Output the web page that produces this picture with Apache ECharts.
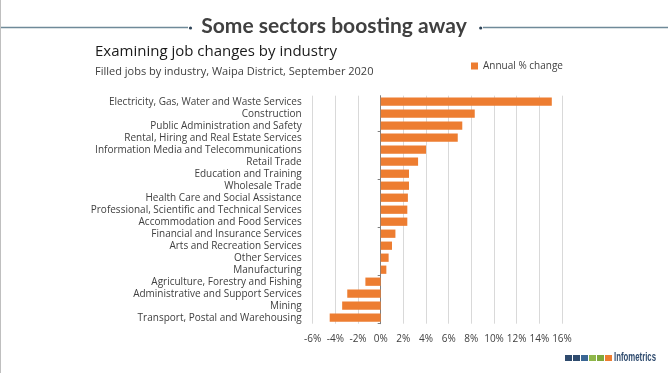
<!DOCTYPE html>
<html>
<head>
<meta charset="utf-8">
<script src="https://cdn.jsdelivr.net/npm/echarts@6/dist/echarts.min.js"></script>
<style>
html,body{margin:0;padding:0;background:#fff;}
#c{width:668px;height:373px;}
</style>
</head>
<body>
<div id="c"></div>
<script>
const categories = [
  "Electricity, Gas, Water and Waste Services",
  "Construction",
  "Public Administration and Safety",
  "Rental, Hiring and Real Estate Services",
  "Information Media and Telecommunications",
  "Retail Trade",
  "Education and Training",
  "Wholesale Trade",
  "Health Care and Social Assistance",
  "Professional, Scientific and Technical Services",
  "Accommodation and Food Services",
  "Financial and Insurance Services",
  "Arts and Recreation Services",
  "Other Services",
  "Manufacturing",
  "Agriculture, Forestry and Fishing",
  "Administrative and Support Services",
  "Mining",
  "Transport, Postal and Warehousing"
];
const annualChange = [15.1, 8.3, 7.2, 6.8, 4.0, 3.3, 2.5, 2.5, 2.4, 2.35, 2.35, 1.3, 1.0, 0.7, 0.5, -1.35, -2.95, -3.4, -4.5];
const xMin = -6, xMax = 16, xStep = 2;
const seriesName = "Annual % change";
const chartTitle = "Some sectors boosting away";
const subTitle = "Examining job changes by industry";
const subText = "Filled jobs by industry, Waipa District, September 2020";

const font = "'Open Sans', sans-serif";
const chart = echarts.init(document.getElementById('c'), null, {renderer: 'canvas'});
const logoColors = ['#2f4b6e', '#2f4b6e', '#3a6694', '#8fb74a', '#7fa83c', '#ed7d31'];
const logo = logoColors.map((c, i) => ({
  type: 'rect', shape: {x: 565 + i * 8, y: 355, width: 7, height: 6}, style: {fill: c}, silent: true
}));

chart.setOption({
  animation: false,
  backgroundColor: '#ffffff',
  textStyle: {fontFamily: font},
  title: [
    {text: chartTitle, left: 'center', top: 11,
     textStyle: {fontFamily: 'Lato', fontWeight: 'bold', fontSize: 21, color: '#404040'}},
    {text: subTitle, left: 90, top: 39,
     textStyle: {fontFamily: font, fontWeight: 'normal', fontSize: 15, color: '#1a1a1a'}},
    {text: subText, left: 90, top: 61,
     textStyle: {fontFamily: font, fontWeight: 'normal', fontSize: 11, color: '#404040'}}
  ],
  legend: {
    data: [seriesName], left: 466, top: 56, itemWidth: 7, itemHeight: 7, itemGap: 3,
    icon: 'rect',
    textStyle: {fontFamily: font, fontSize: 10, color: '#404040'}
  },
  grid: {left: 312.7, right: 106, top: 95.7, height: 228, containLabel: false},
  xAxis: {
    type: 'value', min: xMin, max: xMax, interval: xStep,
    axisLine: {show: false}, axisTick: {show: false},
    splitLine: {show: true, lineStyle: {color: '#d9d9d9', width: 1}},
    axisLabel: {formatter: '{value}%', fontFamily: font, fontSize: 10, color: '#404040', margin: 10}
  },
  yAxis: [
    {
      type: 'category', data: categories, inverse: true,
      axisLine: {show: false, onZero: false}, axisTick: {show: false},
      axisLabel: {interval: 0, fontFamily: font, fontSize: 10, color: '#404040', margin: 11}
    },
    {
      type: 'category', data: categories, inverse: true, position: 'left',
      axisLine: {show: true, onZero: true, lineStyle: {color: '#7f7f7f', width: 1}},
      axisTick: {show: true, length: 3, interval: (i) => i % 4 === 3, lineStyle: {color: '#7f7f7f'}},
      axisLabel: {show: false}
    }
  ],
  series: [{
    name: seriesName, type: 'bar', data: annualChange, yAxisIndex: 0,
    barCategoryGap: '31%', itemStyle: {color: '#ed7d31'}
  }],
  graphic: [
    {type: 'line', shape: {x1: 0.5, y1: 0, x2: 0.5, y2: 373}, style: {stroke: '#bfbfbf', lineWidth: 1}, silent: true},
    {type: 'line', shape: {x1: 1, y1: 27.5, x2: 188, y2: 27.5}, style: {stroke: '#6f8a99', lineWidth: 1.5}, silent: true},
    {type: 'circle', shape: {cx: 190.5, cy: 28, r: 1.6}, style: {fill: '#2f4458'}, silent: true},
    {type: 'line', shape: {x1: 483, y1: 27.5, x2: 668, y2: 27.5}, style: {stroke: '#6f8a99', lineWidth: 1.5}, silent: true},
    {type: 'circle', shape: {cx: 480.7, cy: 28, r: 1.6}, style: {fill: '#2f4458'}, silent: true},
    ...logo,
    {type: 'text', x: 614, y: 351, scaleX: 0.6, silent: true,
     style: {text: 'Infometrics', fill: '#2f4b6e', font: "bold 13px 'Liberation Sans Narrow', 'Liberation Sans', sans-serif"}}
  ]
});
</script>
</body>
</html>
